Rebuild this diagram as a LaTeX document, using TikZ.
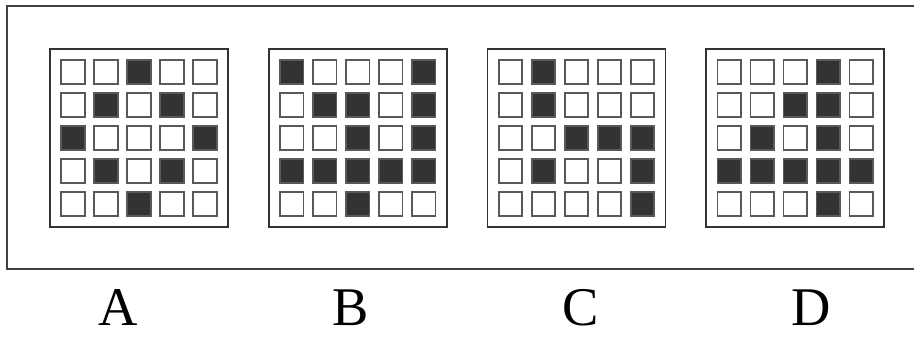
\documentclass[tikz,border=0pt]{standalone}
\usepackage{fontspec}
\setmainfont{Liberation Serif}
\usetikzlibrary{positioning}
\tikzset{
  panel/.style={draw=black!80,line width=1pt,minimum size=3.56cm,inner sep=0pt},
  cell/.style={draw=black!65,line width=0.9pt,minimum size=0.47cm,inner sep=0pt},
  dark/.style={cell,fill=black!80},
  letter/.style={font=\fontsize{31}{35}\selectfont,inner sep=0pt}
}
\begin{document}
\begin{tikzpicture}[node distance=0.78cm]
\useasboundingbox (0,0) rectangle (18.28,6.8);
\clip (0,0) rectangle (18.28,6.8);
% outer frame, its right side runs off the page
\draw[black!75,line width=1.1pt] (0.14,6.68) rectangle (18.8,1.42);

\node[panel] (A) at (2.78,4.04) {};
\node[panel,right=of A] (B) {};
\node[panel,right=of B] (C) {};
\node[panel,right=of C] (D) {};

% all cells first
\foreach \p in {A,B,C,D}
  \foreach \r in {1,...,5}
    \foreach \c in {1,...,5}
      \node[cell] (\p-\r-\c) at ([shift={({0.66*(\c-3)},{0.66*(3-\r)})}]\p.center) {};

% dark cells, row/column
\def\darkA{1/3,2/2,2/4,3/1,3/5,4/2,4/4,5/3}
\def\darkB{1/1,1/5,2/2,2/3,2/5,3/3,3/5,4/1,4/2,4/3,4/4,4/5,5/3}
\def\darkC{1/2,2/2,3/3,3/4,3/5,4/2,4/5,5/5}
\def\darkD{1/4,2/3,2/4,3/2,3/4,4/1,4/2,4/3,4/4,4/5,5/4}
\foreach \r/\c in \darkA {\node[dark] at (A-\r-\c) {};}
\foreach \r/\c in \darkB {\node[dark] at (B-\r-\c) {};}
\foreach \r/\c in \darkC {\node[dark] at (C-\r-\c) {};}
\foreach \r/\c in \darkD {\node[dark] at (D-\r-\c) {};}

\node[letter] (la) at (2.36,0.64) {A};
\node[letter] (lb) at (7.02,0.64) {B};
\node[letter] (lc) at (11.62,0.64) {C};
\node[letter] (ld) at (16.22,0.64) {D};
\end{tikzpicture}
\end{document}
